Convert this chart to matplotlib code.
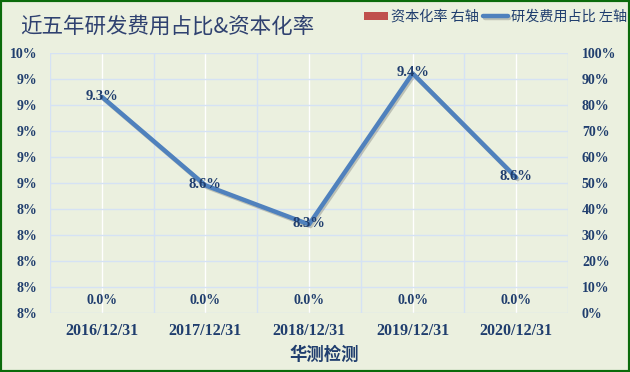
import matplotlib
matplotlib.use("Agg")
import matplotlib.pyplot as plt
import matplotlib.patheffects as pe
from matplotlib.patches import Rectangle
from matplotlib.ticker import FuncFormatter, PercentFormatter

# ---- data ----
categories = ["2016/12/31", "2017/12/31", "2018/12/31", "2019/12/31", "2020/12/31"]
rd_ratio = [9.26, 8.58, 8.28, 9.44, 8.64]          # 研发费用占比 (%), left axis
cap_rate = [0.0, 0.0, 0.0, 0.0, 0.0]               # 资本化率 (fraction), right axis
left_ticks = [7.6, 7.8, 8.0, 8.2, 8.4, 8.6, 8.8, 9.0, 9.2, 9.4, 9.6]
right_ticks = [0.0, 0.1, 0.2, 0.3, 0.4, 0.5, 0.6, 0.7, 0.8, 0.9, 1.0]
title = "近五年研发费用占比&资本化率"
xlabel = "华测检测"
legend_labels = ["资本化率 右轴", "研发费用占比 左轴"]

# ---- style ----
BG = "#EBF0DF"
GRID = "#D5E2F4"
TXT = "#203E6E"
LINE = "#4F81BD"
BAR = "#C0504D"
CJK = ["Noto Sans CJK SC", "DejaVu Sans"]
SERIF = ["Liberation Serif", "DejaVu Serif"]

W, H = 630, 372
fig = plt.figure(figsize=(W / 100, H / 100), dpi=100, facecolor=BG)
L, R, T, B = 50, 568, 52.5, 313
ax = fig.add_axes([L / W, 1 - B / H, (R - L) / W, (B - T) / H])
ax.set_facecolor(BG)
ax2 = ax.twinx()
ax2.patch.set_visible(False)

x = list(range(len(categories)))

# bars (capitalization rate, right axis)
bars = ax2.bar(x, cap_rate, width=0.55, color=BAR, zorder=2)
for xi, v in zip(x, cap_rate):
    ax2.annotate(f"{v*100:.1f}%", (xi, v), xytext=(0, 9), textcoords="offset points",
                 ha="center", va="center", fontsize=10, fontweight="bold",
                 family=SERIF, color=TXT)

# line (R&D ratio, left axis)
line, = ax.plot(x, rd_ratio, color=LINE, lw=3.2, solid_capstyle="round", zorder=3,
                path_effects=[pe.SimpleLineShadow(offset=(1.0, -1.2), shadow_color="#555555", alpha=0.3),
                              pe.Normal()])
for xi, v in zip(x, rd_ratio):
    ax.annotate(f"{v:.1f}%", (xi, v), xytext=(0, 0.5), textcoords="offset points",
                ha="center", va="center", fontsize=10.5, fontweight="bold",
                family=SERIF, color=TXT, zorder=5)

# axes
ax.set_xlim(-0.5, len(categories) - 0.5)
ax.set_ylim(left_ticks[0], left_ticks[-1])
ax.set_yticks(left_ticks)
ax.yaxis.set_major_formatter(FuncFormatter(lambda v, p: f"{v:.0f}%"))
ax2.set_ylim(right_ticks[0], right_ticks[-1])
ax2.set_yticks(right_ticks)
ax2.yaxis.set_major_formatter(PercentFormatter(1.0, decimals=0))

ax.set_xticks(x)
ax.set_xticklabels(categories)
ax.set_xticks([i - 0.5 for i in range(len(categories) + 1)], minor=True)

ax.grid(axis="y", color=GRID, lw=1.0, zorder=0)
ax.grid(axis="x", which="minor", color=GRID, lw=1.0, zorder=0)
ax.grid(axis="x", which="major", color="white", lw=1.0, zorder=0)
ax.set_axisbelow(True)

for a in (ax, ax2):
    for s in a.spines.values():
        s.set_visible(False)
    a.tick_params(which="both", length=0)

for lab in ax.get_yticklabels():
    lab.set_fontfamily(SERIF); lab.set_fontweight("bold"); lab.set_fontsize(10); lab.set_color(TXT)
for lab in ax2.get_yticklabels():
    lab.set_fontfamily(SERIF); lab.set_fontweight("bold"); lab.set_fontsize(10); lab.set_color(TXT)
for lab in ax.get_xticklabels():
    lab.set_fontfamily(SERIF); lab.set_fontweight("bold"); lab.set_fontsize(11.5); lab.set_color(TXT)
ax.tick_params(axis="y", pad=9)
ax2.tick_params(axis="y", pad=10)
ax.tick_params(axis="x", pad=7)

# title, x label
fig.text(20 / W, 1 - 27 / H, title, family=CJK, fontsize=15.5, color="#2F4170",
         ha="left", va="center")
fig.text(324 / W, 1 - 355 / H, xlabel, family=CJK, fontsize=12.5, fontweight="bold",
         color=TXT, ha="center", va="center")

# legend
fig.legend([bars, line], legend_labels, loc="center right",
           bbox_to_anchor=(1.0 - 3 / W, 1 - 17 / H), ncol=2, frameon=False,
           prop={"family": CJK, "size": 10.2}, labelcolor=TXT,
           handlelength=1.75, handleheight=0.5, handletextpad=0.2, columnspacing=0.3,
           borderaxespad=0, borderpad=0)

# green frame
fig.patches.append(Rectangle((0, 0), 1, 1, transform=fig.transFigure, fill=False,
                             edgecolor="#0B6B0B", linewidth=3))

fig.savefig("out.png", dpi=100, facecolor=BG)
